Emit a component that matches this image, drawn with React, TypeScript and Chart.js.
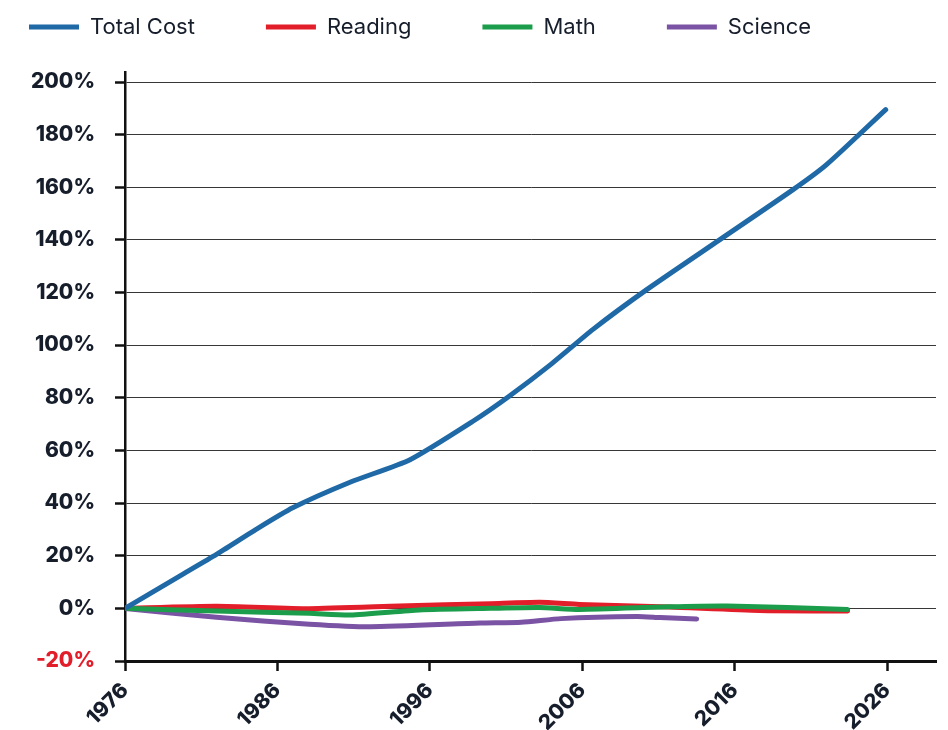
import React, { useEffect, useRef } from "react";
import { Chart, registerables } from "chart.js";

Chart.register(...registerables);

// ---- Data ----
const SERIES_NAMES = ["Total Cost", "Reading", "Math", "Science"];

const COST_YEARS = [1976, 1979.5, 1982, 1984.6, 1987, 1990.8, 1994.7, 1998.8, 2001.2, 2004, 2006.7, 2010.2, 2015, 2019.8, 2022, 2025.9];
const COST_VALUES = [0, 12, 20.5, 30, 38.2, 48, 56.5, 71, 80.6, 93, 106, 121, 140, 159, 168.5, 189.5];

const READING_YEARS = [1976, 1982, 1988.1, 1994, 2000, 2003.2, 2005.8, 2011.7, 2017.6, 2023.4];
const READING_VALUES = [0, 0.8, -0.1, 0.9, 1.8, 2.3, 1.5, 0.5, -0.8, -1.0];

const MATH_YEARS = [1976, 1982, 1988.1, 1990.8, 1995.3, 2000, 2003.2, 2005.8, 2011.7, 2015.5, 2023.4];
const MATH_VALUES = [0, -1.0, -1.9, -2.5, -0.6, 0, 0.3, -0.4, 0.6, 0.9, -0.4];

const SCIENCE_YEARS = [1976, 1982, 1988.1, 1992.1, 1999.3, 2002, 2004.6, 2009.6, 2011.1, 2013.5];
const SCIENCE_VALUES = [0, -3.4, -6.0, -7.0, -5.6, -5.3, -3.9, -3.1, -3.5, -4.0];

const X_TICK_YEARS = [1976, 1986, 1996, 2006, 2016, 2026];
const Y_TICK_VALUES = [-20, 0, 20, 40, 60, 80, 100, 120, 140, 160, 180, 200];

const COLORS = ["#1f69a6", "#e31e2b", "#1b9d4b", "#7a53a4"];
const TEXT_DARK = "#161d2b";
const TEXT_RED = "#e31e2b";
const FONT = "Inter, 'Noto Sans', sans-serif";

const toPoints = (xs: number[], ys: number[]) => xs.map((x, i) => ({ x, y: ys[i] }));

const LEGEND_PAD = 71;

const legendPlacement = {
  id: "legendPlacement",
  beforeLayout(chart: any) {
    const legend = chart.legend;
    if (legend && !legend._patchedFit) {
      const orig = legend.fit;
      legend.fit = function () {
        orig.call(this);
        this.height = 64;
      };
      legend._patchedFit = true;
    }
  },
  afterLayout(chart: any) {
    const legend = chart.legend;
    if (legend) {
      legend.left = 21 - LEGEND_PAD;
      legend.top = 8 - LEGEND_PAD;
    }
  },
};

export default function App() {
  const ref = useRef<HTMLCanvasElement | null>(null);

  useEffect(() => {
    if (!ref.current) return;
    const series = [
      toPoints(COST_YEARS, COST_VALUES),
      toPoints(READING_YEARS, READING_VALUES),
      toPoints(MATH_YEARS, MATH_VALUES),
      toPoints(SCIENCE_YEARS, SCIENCE_VALUES),
    ];
    const orders = [0, 2, 1, 3];
    const chart = new Chart(ref.current, {
      type: "line",
      data: {
        datasets: SERIES_NAMES.map((name, i) => ({
          label: name,
          data: series[i],
          borderColor: COLORS[i],
          backgroundColor: COLORS[i],
          borderWidth: 5,
          borderCapStyle: "round",
          borderJoinStyle: "round",
          pointRadius: 0,
          pointHoverRadius: 0,
          pointStyle: "line",
          tension: 0.2,
          fill: false,
          order: orders[i],
        })),
      },
      options: {
        animation: false,
        responsive: true,
        maintainAspectRatio: false,
        layout: { padding: { left: 0, right: 4, top: 0, bottom: 0 } },
        plugins: {
          tooltip: { enabled: false },
          legend: {
            display: true,
            position: "top",
            align: "start",
            labels: {
              usePointStyle: true,
              pointStyle: "line",
              pointStyleWidth: 50,
              padding: LEGEND_PAD,
              color: TEXT_DARK,
              font: { family: FONT, size: 22, weight: "normal" },
              sort: (a: any, b: any) => a.datasetIndex - b.datasetIndex,
            },
          },
        },
        scales: {
          x: {
            type: "linear",
            min: 1976,
            max: 2029.2,
            afterBuildTicks: (scale: any) => {
              scale.ticks = X_TICK_YEARS.map((v) => ({ value: v }));
            },
            afterFit: (scale: any) => {
              scale.height = 69;
            },
            ticks: {
              autoSkip: false,
              minRotation: 45,
              maxRotation: 45,
              padding: 7,
              color: TEXT_DARK,
              font: { family: FONT, size: 21, weight: "800" },
              callback: (v: any) => String(v),
            },
            grid: {
              drawOnChartArea: false,
              drawTicks: true,
              tickLength: 10,
              tickWidth: 2.5,
              tickColor: "#111",
            },
            border: { display: true, color: "#111", width: 3 },
          },
          y: {
            type: "linear",
            min: -20,
            max: 203.8,
            afterBuildTicks: (scale: any) => {
              scale.ticks = Y_TICK_VALUES.map((v) => ({ value: v }));
            },
            afterFit: (scale: any) => {
              scale.width = 117;
            },
            ticks: {
              autoSkip: false,
              padding: 20,
              color: (ctx: any) => (ctx.tick && ctx.tick.value < 0 ? TEXT_RED : TEXT_DARK),
              font: { family: FONT, size: 21, weight: "800" },
              callback: (v: any) => v + "%",
            },
            grid: {
              color: "rgba(20,20,20,0.85)",
              lineWidth: 1,
              drawTicks: true,
              tickLength: 10,
              tickWidth: 2.5,
              tickColor: "#111",
            },
            border: { display: true, color: "#111", width: 2.5 },
          },
        },
      },
      plugins: [legendPlacement],
    } as any);
    return () => chart.destroy();
  }, []);

  return (
    <div style={{ position: "relative", width: 932, height: 722 }}>
      <canvas ref={ref} />
    </div>
  );
}
